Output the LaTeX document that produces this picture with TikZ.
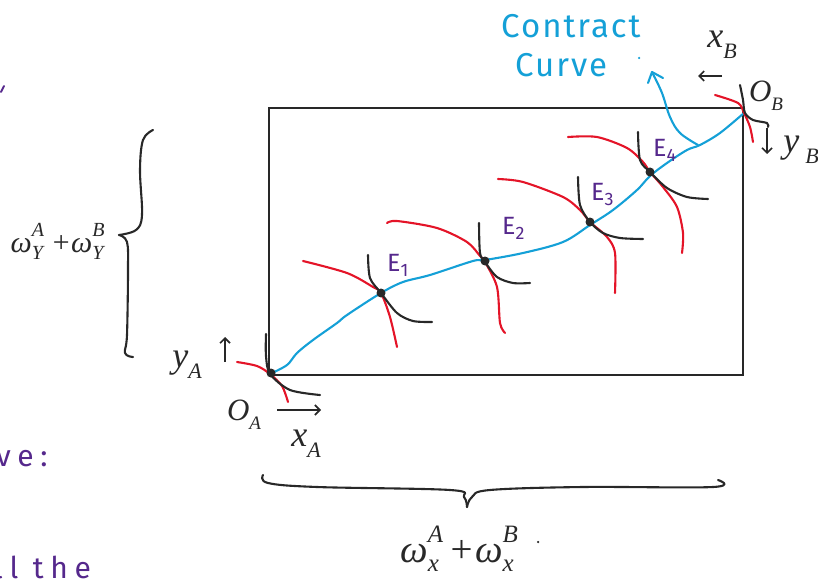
\documentclass[tikz,border=0pt]{standalone}
\usepackage{fontspec}
\setsansfont{Fira Sans}
\newfontfamily\lblfont{Liberation Serif}
\usetikzlibrary{arrows.meta}
\definecolor{ink}{RGB}{40,40,40}
\definecolor{cblue}{RGB}{20,160,215}
\definecolor{cred}{RGB}{228,20,40}
\definecolor{cpurple}{RGB}{85,40,140}
\newcommand{\lsub}[2][22]{\raisebox{-0.3em}{\fontsize{#1}{#1}\selectfont #2}}
\newcommand{\lsubsup}[3][20]{{\fontsize{#1}{#1}\selectfont\makebox[0pt][l]{\raisebox{0.8em}{#3}}\raisebox{-0.35em}{#2}\hspace{0.4em}}}
\begin{document}
\begin{tikzpicture}[x=1pt,y=-1pt,
  hand/.style={line width=2.1pt,line cap=round,line join=round},
  blk/.style={hand,draw=ink},
  redc/.style={hand,draw=cred},
  bluec/.style={hand,draw=cblue},
  dotE/.style={circle,fill=ink,inner sep=0pt,minimum size=9pt},
  elab/.style={text=cpurple,font=\sffamily\fontsize{25}{28}\selectfont,inner sep=0pt},
  mlab/.style={text=ink,inner sep=0pt,font=\lblfont\itshape\fontsize{36}{38}\selectfont},
  olab/.style={mlab,font=\lblfont\itshape\fontsize{31}{33}\selectfont},
  ctext/.style={text=cblue,font=\sffamily\fontsize{33}{36}\selectfont\addfontfeature{LetterSpace=6},inner sep=0pt},
  ptext/.style={text=cpurple,font=\sffamily\fontsize{30}{34}\selectfont\addfontfeature{LetterSpace=22},inner sep=0pt},
  barb/.style={-{Straight Barb[length=5pt,width=10pt,line width=1.6pt]}}]
\useasboundingbox (0,0) rectangle (818,580);
% box
\draw[ink,line width=1.6pt] (269,108) rectangle (743,375);
% contract curve
\draw[bluec] plot[smooth,tension=0.55] coordinates {(270,374)(287,365)(297,353)(313,340)(337,323)(347,315)(381,293)(403,282)(430,275)(473,261)(485,260)(523,253)(563,242)(590,225)(613,210)(637,190)(650,176)(667,163)(687,150)(700,145)(720,133)(744,113)};
\draw[bluec] plot[smooth,tension=0.6] coordinates {(698,145)(680,133)(670,117)(662,93)(653,74)};
\draw[bluec] (648,83) -- (652,72) -- (663,78);
% O_A curves
\draw[redc] plot[smooth] coordinates {(237,362)(257,366)(270,374)(282,386)(288,402)};
\draw[blk] plot[smooth] coordinates {(266,334)(266,356)(270,374)(290,390)(320,395)};
% E1
\draw[redc] plot[smooth] coordinates {(303,261)(347,273)(373,287)(381,293)(390,317)(397,347)};
\draw[blk] plot[smooth] coordinates {(368,255)(370,278)(381,293)(397,313)(413,321)(432,322)};
% E2
\draw[redc] plot[smooth] coordinates {(387,223)(397,221)(437,228)(467,242)(480,256)(485,262)(497,287)(500,323)(505,333)};
\draw[blk] plot[smooth] coordinates {(479,223)(480,253)(485,262)(497,277)(513,283)(530,283)};
% E3
\draw[redc] plot[smooth] coordinates {(498,179)(523,182)(563,197)(580,210)(590,222)(607,237)(615,253)(615,293)};
\draw[blk] plot[smooth] coordinates {(578,177)(580,205)(590,222)(603,233)(620,238)(643,239)};
% E4
\draw[redc] plot[smooth] coordinates {(568,137)(597,137)(627,148)(643,162)(650,172)(663,187)(677,207)(683,233)(682,253)};
\draw[blk] plot[smooth] coordinates {(638,132)(640,160)(650,172)(667,188)(687,197)(708,199)};
% O_B curves
\draw[redc] plot[smooth] coordinates {(715,95)(738,103)(744,113)(750,127)(753,142)};
\draw[blk] plot[smooth] coordinates {(740,85)(743,100)(745,113)(753,120)(767,123)(768,127)};
% dots
\node[dotE] (OA) at (271,373) {};
\node[dotE] (E1) at (381,293) {};
\node[dotE] (E2) at (485,261) {};
\node[dotE] (E3) at (590,222) {};
\node[dotE] (E4) at (650,172) {};
% E labels
\node[elab,anchor=north west] (lE1) at (387,254) {E\raisebox{-0.35ex}{\fontsize{18}{18}\selectfont 1}};
\node[elab,anchor=north west] (lE2) at (502,217) {E\raisebox{-0.35ex}{\fontsize{18}{18}\selectfont 2}};
\node[elab,anchor=north west] (lE3) at (591,183) {E\raisebox{-0.35ex}{\fontsize{18}{18}\selectfont 3}};
\node[elab,anchor=north west] (lE4) at (653,139) {E\raisebox{-0.35ex}{\fontsize{18}{18}\selectfont 4}};
% Contract curve text
\node[ctext,anchor=west] (cc1) at (501,26) {Contract};
\node[ctext,anchor=west] (cc2) at (515,65) {Curve};
\node[circle,fill=cblue,inner sep=0pt,minimum size=2.5pt] (ccdot) at (639,58) {};
% axis arrows
\coordinate (xAs) at (277,410); \coordinate (xAe) at (321,410);
\draw[ink,line width=1.5pt,barb] (xAs) -- (xAe);
\coordinate (yAs) at (225,362); \coordinate (yAe) at (225,337);
\draw[ink,line width=1.5pt,barb] (yAs) -- (yAe);
\coordinate (xBs) at (722,76); \coordinate (xBe) at (698,76);
\draw[ink,line width=1.5pt,barb] (xBs) -- (xBe);
\coordinate (yBs) at (767,128); \coordinate (yBe) at (767,154);
\draw[ink,line width=1.5pt,barb] (yBs) -- (yBe);
% axis labels
\node[mlab,anchor=center] (lyA) at (187,365) {y\lsub{A}};
\node[olab,anchor=center] (lOA) at (244,415) {O\lsub[19]{A}};
\node[mlab,anchor=center] (lxA) at (306,444) {x\lsub{A}};
\node[mlab,anchor=center] (lxB) at (722,45) {x\lsub{B}};
\node[olab,anchor=center] (lOB) at (766,96) {O\lsub[19]{B}};
\node[mlab,anchor=center] (lyB) at (801,150) {y\,\lsub{B}};
% left brace
\draw[blk] plot[smooth,tension=0.6] coordinates {(153,130)(143,140)(140,170)(142,215)(136,230)(119,235)};
\draw[blk] plot[smooth,tension=0.6] coordinates {(119,235)(127,242)(128,270)(127,335)(125,353)(133,357)};
\node[mlab,anchor=center,font=\lblfont\itshape\fontsize{30}{32}\selectfont] (lwy) at (57,241) {ω\lsubsup[20]{Y}{A}+ω\lsubsup[20]{Y}{B}};
% bottom brace
\draw[blk] plot[smooth,tension=0.6] coordinates {(263,475)(268,483)(317,487)(450,490)(464,497)(467,507)};
\draw[blk] plot[smooth,tension=0.6] coordinates {(467,507)(472,497)(490,490)(583,487)(713,487)(718,480)};
\node[mlab,anchor=center,font=\lblfont\itshape\fontsize{39}{41}\selectfont] (lwx) at (457,549) {ω\lsubsup[25]{x}{A}+ω\lsubsup[25]{x}{B}};
\node[circle,fill=ink,inner sep=0pt,minimum size=2.5pt] (dotw) at (538,542) {};
% purple fragments
\draw[cpurple,line width=1.8pt,line cap=round] (4,86) -- (1,92);
\node[ptext,anchor=west] (pv) at (-4,459) {ve:};
\node[ptext,anchor=base west] (pl) at (-6,578) {ll the};
\end{tikzpicture}
\end{document}
